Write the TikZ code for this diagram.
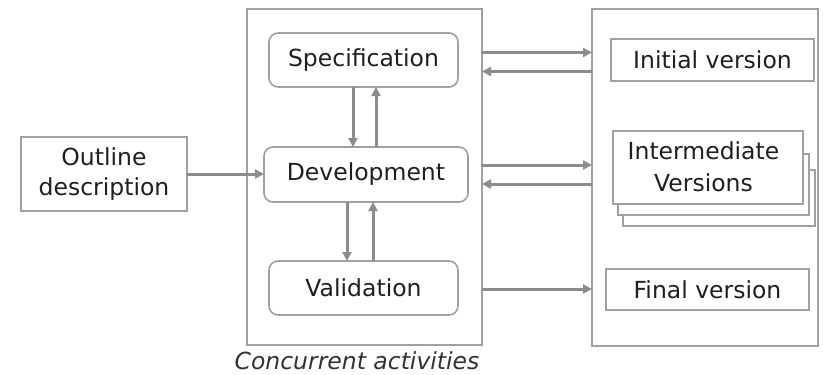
\documentclass[tikz,border=0pt]{standalone}
\usepackage{fontspec}
\setmainfont{DejaVu Sans}
\usetikzlibrary{arrows.meta}
\definecolor{boxgray}{HTML}{A0A0A0}
\definecolor{arrgray}{HTML}{8C8C8C}
\begin{document}
\begin{tikzpicture}[x=1pt,y=-1pt,
  box/.style={draw=boxgray,line width=1.6pt,fill=white,inner sep=0pt},
  rbox/.style={box,rounded corners=9pt},
  lbl/.style={font=\fontsize{23.5}{30}\selectfont,text=black!88,align=center},
  arr/.style={draw=arrgray,line width=3pt,-{Triangle[length=9pt,width=9pt]}}]
\useasboundingbox (0,0) rectangle (823,375);
% containers
\draw[box] (247,9) rectangle (482,345);
\draw[box] (592,9) rectangle (818,346);
% left box
\draw[box] (21,137) rectangle (187,211);
\node[lbl] (out) at (104,174) {Outline\\description};
\coordinate (outE) at (187,174);
% middle boxes
\draw[rbox] (269,33) rectangle (458,87);
\node[lbl] (spec) at (363.5,60) {Specification};
\draw[rbox] (264,147) rectangle (468,202);
\node[lbl] (dev) at (366,174.5) {Development};
\draw[rbox] (269,261) rectangle (458,315);
\node[lbl] (val) at (363.5,288) {Validation};
% right boxes
\draw[box] (611,39) rectangle (814,81);
\node[lbl] (init) at (712.5,60) {Initial version};
\draw[box] (623,170) rectangle (815,226);
\draw[box] (618,154) rectangle (809,215);
\draw[box] (613,131) rectangle (803,204);
\node[lbl,font=\fontsize{23.5}{32}\selectfont] (inter) at (703.5,167) {Intermediate\\Versions};
\draw[box] (606,269) rectangle (809,310);
\node[lbl] (fin) at (707.5,289.5) {Final version};
% coordinates
\coordinate (devW) at (264,174);
\coordinate (specS1) at (353,87); \coordinate (devN1) at (353,147);
\coordinate (specS2) at (376,87); \coordinate (devN2) at (376,147);
\coordinate (devS1) at (347,202); \coordinate (valN1) at (347,261);
\coordinate (devS2) at (373,202); \coordinate (valN2) at (373,261);
\coordinate (mE1) at (482,52.5); \coordinate (rW1) at (592,52.5);
\coordinate (mE2) at (482,71.5); \coordinate (rW2) at (592,71.5);
\coordinate (mE3) at (482,165); \coordinate (rW3) at (592,165);
\coordinate (mE4) at (482,184); \coordinate (rW4) at (592,184);
\coordinate (mE5) at (482,289); \coordinate (rW5) at (592,289);
% arrows
\draw[arr] (outE) -- (devW);
\draw[arr] (specS1) -- (devN1);
\draw[arr] (devN2) -- (specS2);
\draw[arr] (devS1) -- (valN1);
\draw[arr] (valN2) -- (devS2);
\draw[arr] (mE1) -- (rW1);
\draw[arr] (rW2) -- (mE2);
\draw[arr] (mE3) -- (rW3);
\draw[arr] (rW4) -- (mE4);
\draw[arr] (mE5) -- (rW5);
% caption
\node[font=\fontsize{23.5}{28}\selectfont\itshape,text=black!80] (cap) at (357,361) {Concurrent activities};
\end{tikzpicture}
\end{document}
